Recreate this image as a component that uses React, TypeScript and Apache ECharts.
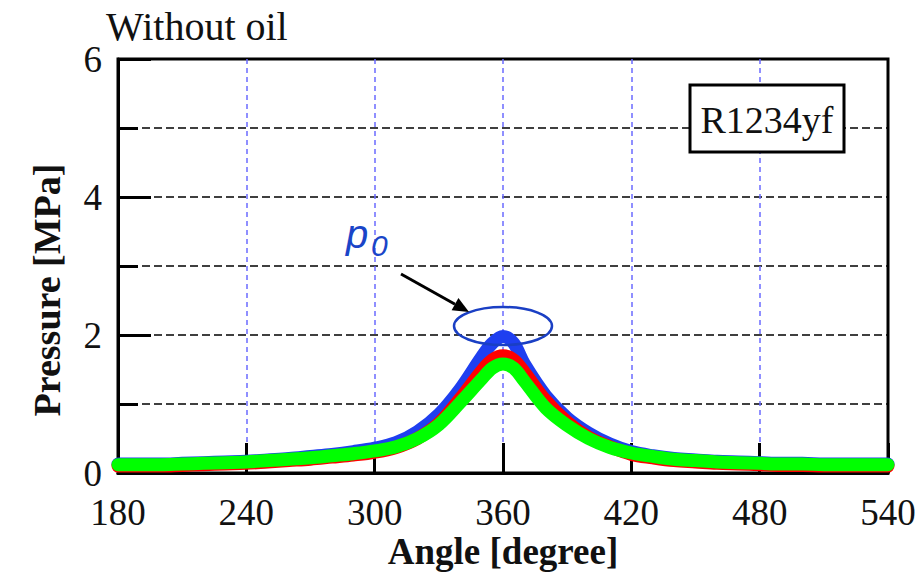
import React, { useEffect, useRef } from "react";
import * as echarts from "echarts";

// ---- data ----
const angles = [
  180, 190, 200, 210, 220, 230, 240, 250, 260, 270, 280, 290, 300, 310, 320, 330, 340,
  350, 355, 360, 365, 370, 380, 390, 400, 410, 420, 430, 440, 450, 460, 470, 480, 490,
  500, 510, 520, 530, 540,
];
const blueValues = [
  0.13, 0.13, 0.13, 0.14, 0.15, 0.16, 0.17, 0.19, 0.21, 0.24, 0.27, 0.31, 0.36, 0.44, 0.6,
  0.85, 1.22, 1.68, 1.88, 1.98, 1.88, 1.58, 1.12, 0.8, 0.58, 0.42, 0.31, 0.25, 0.21, 0.19,
  0.17, 0.16, 0.15, 0.14, 0.14, 0.13, 0.13, 0.13, 0.13,
];
const redValues = [
  0.1, 0.1, 0.1, 0.11, 0.12, 0.13, 0.14, 0.16, 0.18, 0.2, 0.23, 0.26, 0.3, 0.37, 0.5,
  0.72, 1.08, 1.48, 1.64, 1.7, 1.64, 1.46, 1.05, 0.74, 0.52, 0.38, 0.27, 0.22, 0.18, 0.16,
  0.14, 0.13, 0.12, 0.11, 0.11, 0.1, 0.1, 0.1, 0.1,
];
const greenValues = [
  0.12, 0.12, 0.12, 0.13, 0.14, 0.15, 0.16, 0.18, 0.2, 0.22, 0.25, 0.28, 0.32, 0.38, 0.5,
  0.7, 1.02, 1.36, 1.52, 1.58, 1.52, 1.33, 0.94, 0.69, 0.5, 0.37, 0.29, 0.24, 0.2, 0.18,
  0.16, 0.15, 0.14, 0.13, 0.13, 0.12, 0.12, 0.12, 0.12,
];
const seriesColors = ["#1f3ff0", "#ff0000", "#00ff00"];
const xRange = { min: 180, max: 540, step: 60 };
const yRange = { min: 0, max: 6, step: 2 };
const panelTitle = "Without oil";
const legendLabel = "R1234yf";
const xName = "Angle [degree]";
const yName = "Pressure [MPa]";
const peakAnchor = [360, 2.13];

const SERIF = '"Liberation Serif", "Times New Roman", Times, serif';
const SANS = '"Liberation Sans", Arial, Helvetica, sans-serif';

const pairs = (vals: number[]) => angles.map((a, i) => [a, vals[i]]);

export default function App() {
  const ref = useRef<HTMLDivElement>(null);
  useEffect(() => {
    if (!ref.current) return;
    const chart = echarts.init(ref.current, null, { renderer: "svg" });
    const dashBlack = { color: "#000", width: 1.5, type: [8, 4] as number[] };
    chart.setOption({
      animation: false,
      backgroundColor: "#fff",
      title: {
        text: panelTitle,
        left: 106,
        top: 6,
        padding: 0,
        textStyle: { fontFamily: SERIF, fontSize: 40, fontWeight: "normal", color: "#111" },
      },
      grid: {
        left: 118,
        right: 35,
        top: 59,
        bottom: 101,
        outerBoundsMode: "none",
        containLabel: false,
        show: true,
        borderColor: "#000",
        borderWidth: 3,
        backgroundColor: "transparent",
      },
      xAxis: {
        type: "value",
        min: xRange.min,
        max: xRange.max,
        interval: xRange.step,
        axisLine: { show: true, onZero: false, lineStyle: { color: "#000", width: 3 } },
        axisTick: { show: true, inside: true, length: 30, lineStyle: { color: "#000", width: 3 } },
        axisLabel: { color: "#111", fontFamily: SERIF, fontSize: 37, margin: 21 },
        splitLine: {
          show: true,
          showMinLine: false,
          showMaxLine: false,
          lineStyle: { color: "#6b6bff", width: 1.5, type: [5, 4] },
        },
        name: xName,
        nameLocation: "middle",
        nameGap: 60,
        nameMoveOverlap: false,
        nameTextStyle: {
          fontFamily: SERIF,
          fontSize: 37,
          fontWeight: "bold",
          color: "#111",
        },
      },
      yAxis: {
        type: "value",
        min: yRange.min,
        max: yRange.max,
        interval: yRange.step,
        axisLine: { show: true, lineStyle: { color: "#000", width: 3 } },
        axisTick: { show: true, inside: true, length: 33, lineStyle: { color: "#000", width: 3 } },
        minorTick: { show: true, splitNumber: 2, length: 20, lineStyle: { color: "#000", width: 3 } },
        axisLabel: { color: "#111", fontFamily: SERIF, fontSize: 37, margin: 16 },
        splitLine: { show: true, showMinLine: false, showMaxLine: false, lineStyle: dashBlack },
        minorSplitLine: { show: true, lineStyle: dashBlack },
        name: yName,
        nameLocation: "middle",
        nameGap: 52,
        nameRotate: 90,
        nameMoveOverlap: false,
        nameTextStyle: {
          fontFamily: SERIF,
          fontSize: 38,
          fontWeight: "bold",
          color: "#111",
          padding: [0, 48, 0, 0],
        },
      },
      series: [blueValues, redValues, greenValues].map((vals, i) => ({
        type: "line",
        data: pairs(vals),
        symbol: "none",
        smooth: 0.35,
        clip: false,
        z: 2 + i,
        lineStyle: { color: seriesColors[i], width: 13, cap: "round", join: "round" },
      })),
    });

    const [cx, cy] = chart.convertToPixel({ gridIndex: 0 }, peakAnchor) as number[];
    const tip = [cx - 34, cy - 14];
    const tail = [cx - 102, cy - 52];
    const dx = tip[0] - tail[0];
    const dy = tip[1] - tail[1];
    const len = Math.hypot(dx, dy);
    const ux = dx / len;
    const uy = dy / len;
    const base = [tip[0] - 16 * ux, tip[1] - 16 * uy];
    const nx = -uy;
    const ny = ux;

    chart.setOption({
      graphic: [
        {
          type: "ellipse",
          z: 100,
          shape: { cx, cy, rx: 49, ry: 19 },
          style: { fill: "none", stroke: "#1a3fc4", lineWidth: 2.5 },
        },
        {
          type: "line",
          z: 100,
          shape: { x1: tail[0], y1: tail[1], x2: base[0], y2: base[1] },
          style: { stroke: "#000", lineWidth: 3 },
        },
        {
          type: "polygon",
          z: 100,
          shape: {
            points: [
              [tip[0], tip[1]],
              [base[0] + 7 * nx, base[1] + 7 * ny],
              [base[0] - 7 * nx, base[1] - 7 * ny],
            ],
          },
          style: { fill: "#000" },
        },
        {
          type: "text",
          z: 100,
          x: cx - 157,
          y: cy - 92,
          style: {
            text: "p",
            font: `italic 40px ${SANS}`,
            fill: "#1a45c8",
            verticalAlign: "middle",
            align: "left",
          },
        },
        {
          type: "text",
          z: 100,
          x: cx - 132,
          y: cy - 81,
          style: {
            text: "0",
            font: `italic 30px ${SANS}`,
            fill: "#1a45c8",
            verticalAlign: "middle",
            align: "left",
          },
        },
        {
          type: "rect",
          z: 100,
          shape: { x: 690, y: 85, width: 154, height: 67 },
          style: { fill: "#fff", stroke: "#000", lineWidth: 3 },
        },
        {
          type: "text",
          z: 101,
          x: 767,
          y: 120,
          style: {
            text: legendLabel,
            font: `38px ${SERIF}`,
            fill: "#111",
            align: "center",
            verticalAlign: "middle",
          },
        },
      ],
    });

    return () => chart.dispose();
  }, []);

  return (
    <div
      ref={ref}
      style={{ position: "fixed", left: 0, top: 0, width: 923, height: 574, background: "#fff" }}
    />
  );
}
